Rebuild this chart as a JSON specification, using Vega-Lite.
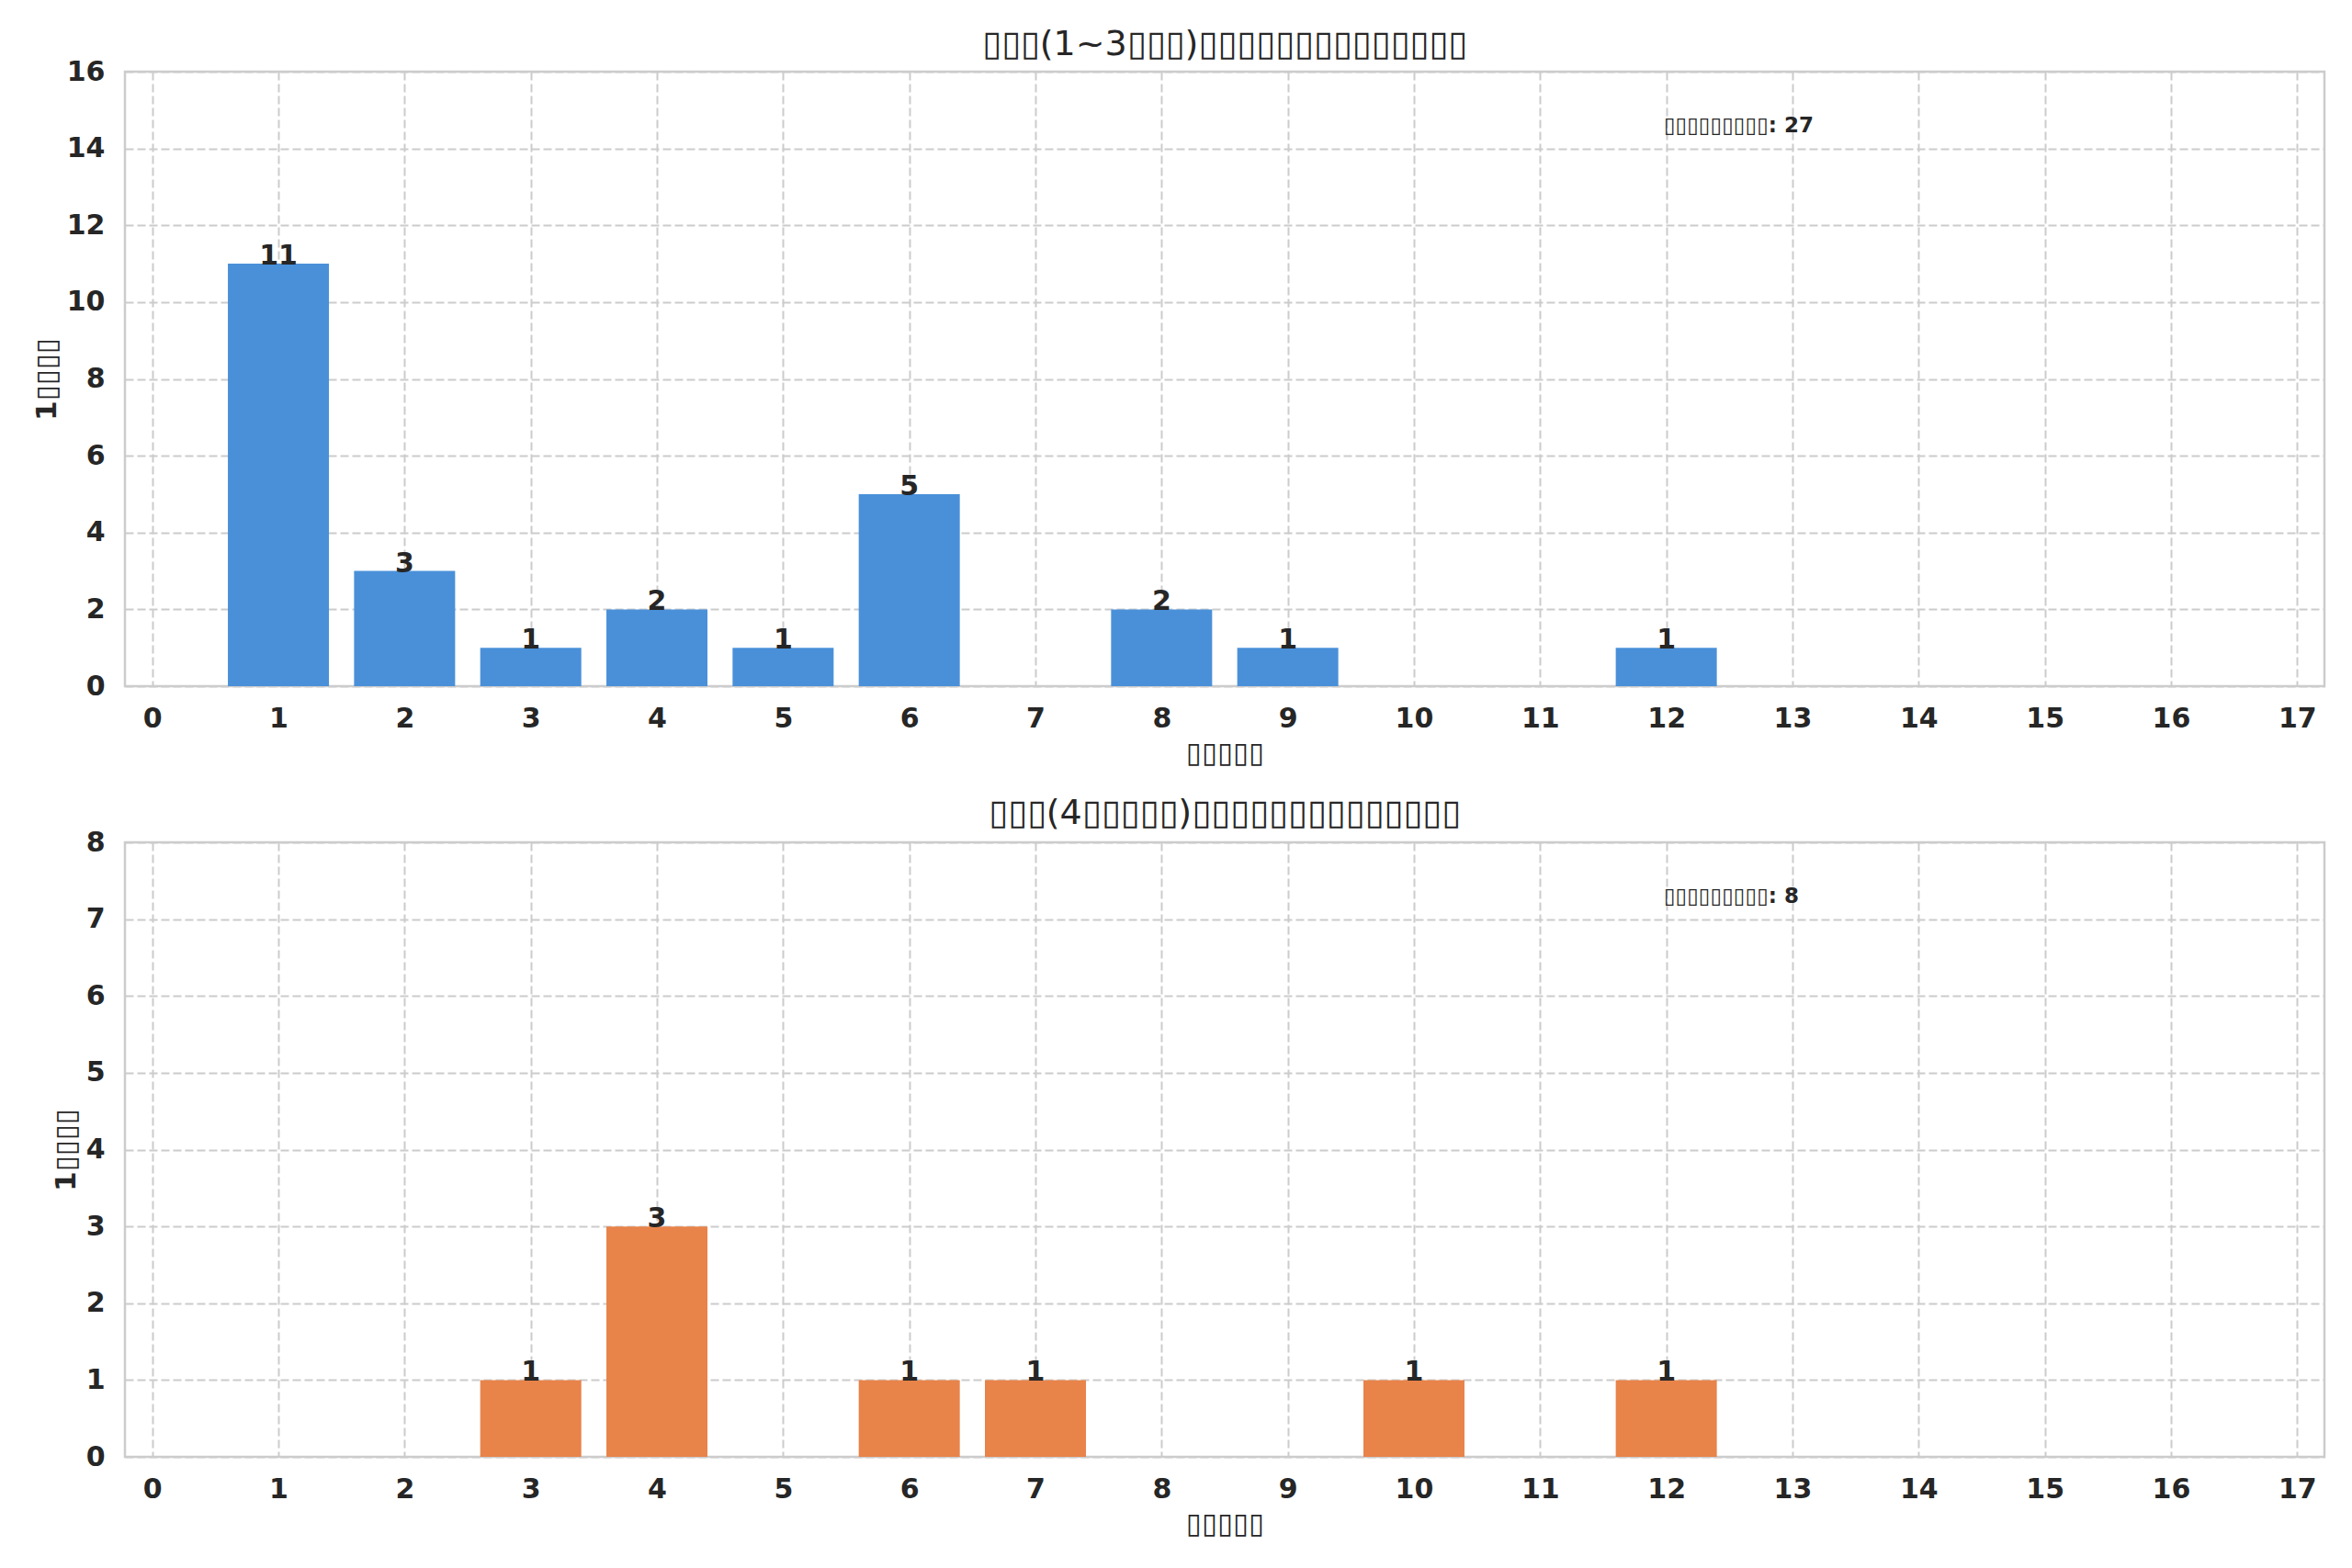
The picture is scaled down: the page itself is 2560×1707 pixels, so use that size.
{
  "$schema": "https://vega.github.io/schema/vega-lite/v6.json",
  "autosize": {"type": "pad"},
  "padding": {"left": 34, "top": 28, "right": 28, "bottom": 10},
  "background": "white",
  "spacing": 170,
  "bounds": "flush",
  "config": {
    "font": "DejaVu Sans",
    "view": {"stroke": "#cccccc", "strokeWidth": 2.5},
    "axis": {
      "domain": false,
      "ticks": false,
      "grid": true,
      "gridColor": "#cccccc",
      "gridDash": [9, 4],
      "gridWidth": 2,
      "labelFont": "DejaVu Sans",
      "labelFontSize": 30,
      "labelFontWeight": "bold",
      "labelColor": "#262626",
      "titleFont": "DejaVu Sans",
      "titleFontSize": 31,
      "titleFontWeight": "bold",
      "titleColor": "#262626"
    },
    "axisX": {"labelPadding": 20, "titlePadding": 8, "labelFlush": false},
    "axisY": {"labelPadding": 22, "titlePadding": 5},
    "title": {"font": "DejaVu Sans", "fontSize": 38, "fontWeight": "normal", "color": "#262626", "baseline": "alphabetic", "offset": -5}
  },
  "vconcat": [
    {
      "width": 2394,
      "height": 669,
      "title": {"text": "▯▯▯(1~3▯▯▯)▯▯▯▯▯▯▯▯▯▯▯▯▯▯"},
      "data": {"values": [
        {"n": 1, "count": 11},
        {"n": 2, "count": 3},
        {"n": 3, "count": 1},
        {"n": 4, "count": 2},
        {"n": 5, "count": 1},
        {"n": 6, "count": 5},
        {"n": 8, "count": 2},
        {"n": 9, "count": 1},
        {"n": 12, "count": 1}
      ]},
      "layer": [
        {
          "mark": {"type": "bar", "size": 110, "color": "#4a90d9"},
          "encoding": {
            "x": {"field": "n", "type": "quantitative", "scale": {"domain": [-0.18, 17.18], "nice": false, "zero": false},
                  "axis": {"title": "▯▯▯▯▯", "values": [0,1,2,3,4,5,6,7,8,9,10,11,12,13,14,15,16,17], "format": "d"}},
            "y": {"field": "count", "type": "quantitative", "scale": {"domain": [0, 16], "nice": false},
                  "axis": {"title": "1▯▯▯▯", "values": [0,2,4,6,8,10,12,14,16], "format": "d"}}
          }
        },
        {
          "mark": {"type": "text", "baseline": "alphabetic", "align": "center", "dy": 1, "fontSize": 30, "fontWeight": "bold", "color": "#262626"},
          "encoding": {
            "x": {"field": "n", "type": "quantitative"},
            "y": {"field": "count", "type": "quantitative"},
            "text": {"field": "count", "type": "quantitative"}
          }
        },
        {
          "data": {"values": [{"ax": 11.98, "ay": 14.6, "label": "▯▯▯▯▯▯▯▯▯: 27"}]},
          "mark": {"type": "text", "align": "left", "baseline": "middle", "fontSize": 23, "fontWeight": "bold", "color": "#262626"},
          "encoding": {
            "x": {"field": "ax", "type": "quantitative"},
            "y": {"field": "ay", "type": "quantitative"},
            "text": {"field": "label", "type": "nominal"}
          }
        }
      ]
    },
    {
      "width": 2394,
      "height": 669,
      "title": {"text": "▯▯▯(4▯▯▯▯▯)▯▯▯▯▯▯▯▯▯▯▯▯▯▯", "offset": -3},
      "data": {"values": [
        {"n": 3, "count": 1},
        {"n": 4, "count": 3},
        {"n": 6, "count": 1},
        {"n": 7, "count": 1},
        {"n": 10, "count": 1},
        {"n": 12, "count": 1}
      ]},
      "layer": [
        {
          "mark": {"type": "bar", "size": 110, "color": "#e8834a"},
          "encoding": {
            "x": {"field": "n", "type": "quantitative", "scale": {"domain": [-0.18, 17.18], "nice": false, "zero": false},
                  "axis": {"title": "▯▯▯▯▯", "values": [0,1,2,3,4,5,6,7,8,9,10,11,12,13,14,15,16,17], "format": "d"}},
            "y": {"field": "count", "type": "quantitative", "scale": {"domain": [0, 8], "nice": false},
                  "axis": {"title": "1▯▯▯▯", "values": [0,1,2,3,4,5,6,7,8], "format": "d"}}
          }
        },
        {
          "mark": {"type": "text", "baseline": "alphabetic", "align": "center", "dy": 1, "fontSize": 30, "fontWeight": "bold", "color": "#262626"},
          "encoding": {
            "x": {"field": "n", "type": "quantitative"},
            "y": {"field": "count", "type": "quantitative"},
            "text": {"field": "count", "type": "quantitative"}
          }
        },
        {
          "data": {"values": [{"ax": 11.98, "ay": 7.3, "label": "▯▯▯▯▯▯▯▯▯: 8"}]},
          "mark": {"type": "text", "align": "left", "baseline": "middle", "fontSize": 23, "fontWeight": "bold", "color": "#262626"},
          "encoding": {
            "x": {"field": "ax", "type": "quantitative"},
            "y": {"field": "ay", "type": "quantitative"},
            "text": {"field": "label", "type": "nominal"}
          }
        }
      ]
    }
  ]
}
